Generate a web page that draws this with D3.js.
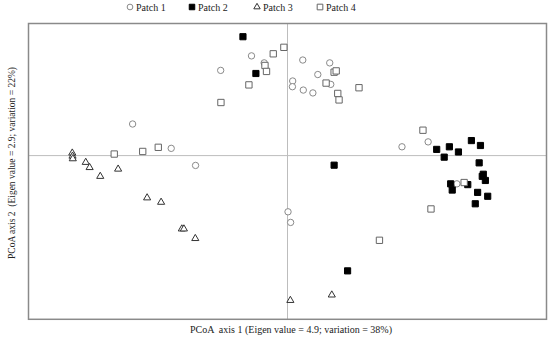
<!DOCTYPE html>
<html>
<head>
<meta charset="utf-8">
<script src="https://cdn.jsdelivr.net/npm/d3@7"></script>
<style>
  body { margin: 0; background: white; }
  text { font-family: "Liberation Serif", "Times New Roman", serif; }
</style>
</head>
<body>
<div id="chart"></div>
<script>
// PCoA scores (axis 1, axis 2)
const patch1 = [
  [-0.139, 0.385], [-0.090, 0.358], [-0.258, 0.329], [-0.598, 0.122], [-0.449, 0.028],
  [-0.355, -0.038], [0.059, 0.369], [0.163, 0.358], [0.117, 0.313], [0.020, 0.288],
  [0.019, 0.266], [0.167, 0.275], [0.061, 0.253], [0.098, 0.242], [0.543, 0.053],
  [0.442, 0.034], [0.654, -0.109], [0.002, -0.217], [0.012, -0.258]
];
const patch2 = [
  [-0.172, 0.459], [-0.122, 0.317], [0.180, -0.037], [0.576, 0.024], [0.625, 0.034],
  [0.605, -0.006], [0.660, 0.014], [0.710, 0.058], [0.745, 0.039], [0.740, -0.028],
  [0.756, -0.072], [0.752, -0.080], [0.764, -0.096], [0.630, -0.109], [0.696, -0.112],
  [0.636, -0.133], [0.734, -0.142], [0.773, -0.157], [0.725, -0.186], [0.232, -0.445]
];
const patch3 = [
  [-0.831, 0.010], [-0.830, -0.002], [-0.829, -0.012], [-0.779, -0.026], [-0.764, -0.046],
  [-0.654, -0.052], [-0.723, -0.080], [-0.542, -0.163], [-0.488, -0.180], [-0.408, -0.283],
  [-0.400, -0.283], [-0.356, -0.320], [0.171, -0.538], [0.011, -0.559]
];
const patch4 = [
  [-0.014, 0.418], [-0.055, 0.393], [-0.087, 0.348], [-0.081, 0.325], [-0.149, 0.273],
  [-0.257, 0.205], [-0.669, 0.006], [-0.559, 0.016], [-0.499, 0.032], [0.180, 0.322],
  [0.188, 0.327], [0.149, 0.280], [0.194, 0.240], [0.199, 0.215], [0.276, 0.262],
  [0.523, 0.098], [0.682, -0.104], [0.554, -0.206], [0.355, -0.327]
];
const legendLabels = ["Patch 1", "Patch 2", "Patch 3", "Patch 4"];
const xLabel = "PCoA  axis 1 (Eigen value = 4.9; variation = 38%)";
const yLabel = "PCoA axis 2  (Eigen value = 2.9; variation = 22%)";

const width = 550, height = 338;
const plot = {left: 28.5, right: 546.5, top: 23.5, bottom: 319.3};

const svg = d3.select("#chart").append("svg")
  .attr("width", width)
  .attr("height", height)
  .style("background", "white");

const x = d3.scaleLinear().domain([-1, 1]).range([plot.left, plot.right]);
const y = d3.scaleLinear().domain([-0.632, 0.51]).range([plot.bottom, plot.top]);

// zero lines
svg.append("line")
  .attr("x1", x(0)).attr("x2", x(0))
  .attr("y1", plot.top).attr("y2", plot.bottom)
  .attr("stroke", "#bdbdbd").attr("stroke-width", 1);
svg.append("line")
  .attr("x1", plot.left).attr("x2", plot.right)
  .attr("y1", y(0)).attr("y2", y(0))
  .attr("stroke", "#bdbdbd").attr("stroke-width", 1);

// frame
svg.append("rect")
  .attr("x", plot.left).attr("y", plot.top)
  .attr("width", plot.right - plot.left)
  .attr("height", plot.bottom - plot.top)
  .attr("fill", "none")
  .attr("stroke", "#8a8a8a")
  .attr("stroke-width", 1.5);

const sym = [
  {type: d3.symbolCircle, size: 32, fill: "white", stroke: "#8a8a8a"},
  {type: d3.symbolSquare, size: 38, fill: "black", stroke: "black"},
  {type: d3.symbolTriangle, size: 22, fill: "white", stroke: "#333"},
  {type: d3.symbolSquare, size: 40, fill: "white", stroke: "#666"}
];

[patch1, patch2, patch3, patch4].forEach((pts, i) => {
  svg.append("g").selectAll("path")
    .data(pts)
    .enter()
    .append("path")
    .attr("d", d3.symbol().type(sym[i].type).size(sym[i].size))
    .attr("transform", d => `translate(${x(d[0])},${y(d[1])})`)
    .attr("fill", sym[i].fill)
    .attr("stroke", sym[i].stroke)
    .attr("stroke-width", 1);
});

// legend
const legendX = [130, 192, 257, 320];
legendLabels.forEach((label, i) => {
  svg.append("path")
    .attr("d", d3.symbol().type(sym[i].type).size(sym[i].size * 0.8))
    .attr("transform", `translate(${legendX[i]},7)`)
    .attr("fill", sym[i].fill)
    .attr("stroke", sym[i].stroke);
  svg.append("text")
    .attr("x", legendX[i] + 6)
    .attr("y", 10.5)
    .style("font-size", "10px")
    .attr("fill", "#222")
    .text(label);
});

svg.append("text")
  .attr("x", 291)
  .attr("y", 333)
  .attr("text-anchor", "middle")
  .style("font-size", "10px")
  .style("white-space", "pre")
  .attr("fill", "#222")
  .text(xLabel);

svg.append("text")
  .attr("transform", "translate(15,163) rotate(-90)")
  .attr("text-anchor", "middle")
  .style("font-size", "9.5px")
  .style("white-space", "pre")
  .attr("fill", "#222")
  .text(yLabel);
</script>
</body>
</html>
